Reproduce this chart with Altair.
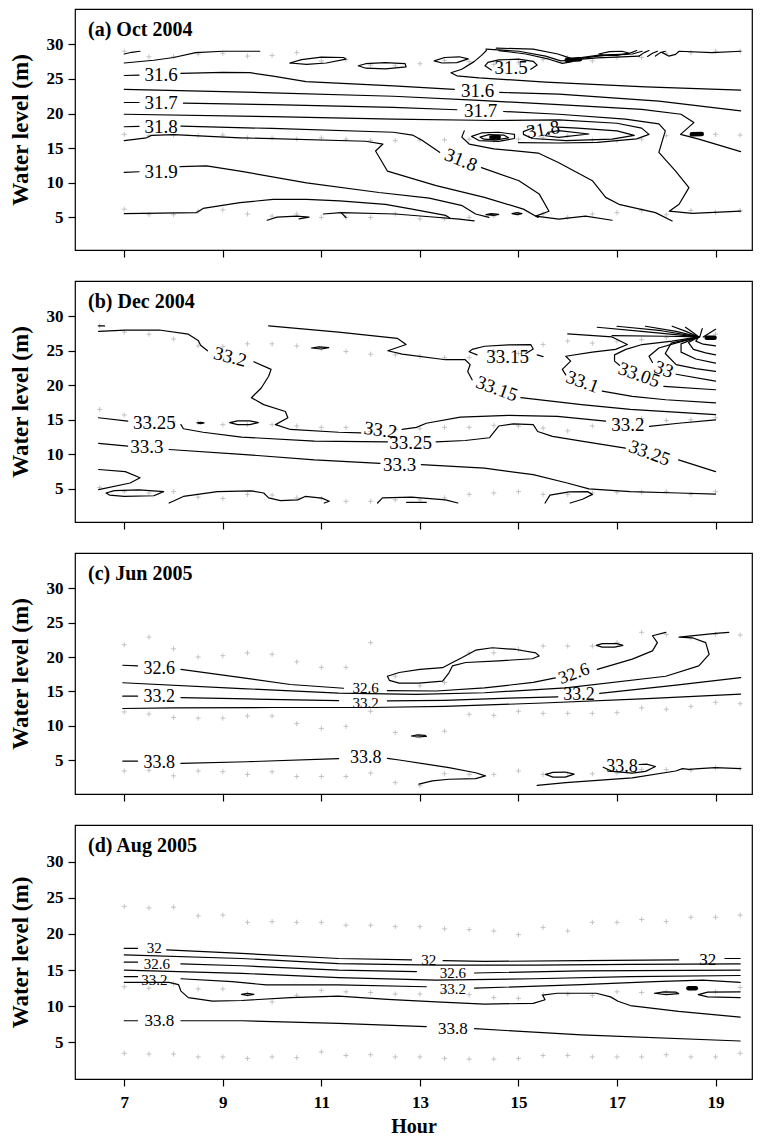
import altair as alt
import pandas as pd

FONT = "Liberation Serif"

# ---------------- shared tick values ----------------
X_TICKS = [7, 9, 11, 13, 15, 17, 19]
Y_TICKS = [5, 10, 15, 20, 25, 30]

# ---------------- sample positions (grey crosses) ----------------
HOURS_ACD = [7, 7.5, 8, 8.5, 9, 9.5, 10, 10.5, 11, 11.5, 12, 12.5, 13, 13.5,
             14, 14.5, 15, 15.5, 16, 16.5, 17, 17.5, 18, 18.5, 19, 19.5]
HOURS_B = [6.5, 7, 7.5, 8, 8.5, 9, 9.5, 10, 10.5, 11, 11.5, 12, 12.5, 13,
           13.5, 14, 14.5, 15, 15.5, 16, 16.5, 17, 17.5, 18, 18.5, 19]

A_TOP = [29.0, 28.2, 28.2, 28.6, 28.7, 28.3, 28.4, 28.8, 27.6, 27.8, 27.0, 26.9, 27.2,
         27.7, 27.5, 27.1, 27.4, 27.8, 28.1, 27.6, 28.1, 28.1, 28.7, 28.8, 29.0, 29.0]
A_MID = [17.0, 16.8, 16.9, 16.8, 16.9, 16.5, 16.5, 16.3, 16.5, 16.3, 16.1, 16.1, 16.2,
         16.2, 16.3, 16.1, 16.3, 16.5, 16.8, 16.2, 16.1, 16.3, 16.8, 16.8, 17.0, 16.9]
A_BOT = [6.2, 5.4, 5.4, 5.9, 6.1, 5.5, 5.2, 5.5, 5.0, 5.0, 5.0, 5.5, 4.8,
         4.8, 5.0, 5.2, 5.5, 5.5, 5.0, 5.5, 5.7, 6.0, 5.4, 6.0, 5.7, 6.0]

B_TOP = [28.6, 27.7, 27.4, 26.7, 25.7, 25.6, 26.0, 26.0, 25.7, 25.3, 24.9, 24.5, 24.4,
         24.2, 24.0, 24.0, 24.9, 24.6, 25.9, 26.4, 26.1, 26.4, 26.6, 26.9, 27.2, 27.4]
B_MID = [16.5, 15.7, 15.3, 14.8, 14.6, 14.3, 14.3, 14.3, 14.1, 13.9, 13.9, 13.3, 13.6,
         13.7, 13.9, 13.9, 14.2, 14.1, 13.8, 13.4, 14.1, 14.8, 15.2, 14.9, 15.0, 15.3]
B_BOT = [5.2, 4.6, 4.4, 4.6, 3.8, 3.6, 4.2, 4.1, 3.7, 3.6, 3.2, 3.2, 3.4,
         3.4, 3.7, 4.2, 4.4, 4.6, 4.2, 4.2, 4.4, 4.5, 4.5, 4.6, 4.2, 4.6]

C_TOP = [21.8, 22.9, 21.2, 20.0, 20.2, 20.6, 20.4, 19.3, 18.5, 18.5, 22.1, 17.2, 15.8,
         16.3, 20.6, 20.6, 21.1, 21.6, 21.6, 21.6, 22.1, 23.6, 23.3, 22.8, 23.3, 23.2]
C_MID = [12.0, 11.7, 11.2, 11.1, 11.1, 11.4, 11.4, 10.3, 9.6, 9.9, 12.1, 9.0, 8.5,
         9.2, 11.65, 11.5, 12.1, 11.8, 11.8, 11.8, 11.9, 12.6, 12.4, 12.8, 13.4, 13.2]
C_BOT = [3.4, 3.5, 2.7, 3.4, 3.3, 2.9, 3.3, 2.6, 2.6, 2.6, 3.1, 1.7, 1.3,
         3.0, 2.9, 2.9, 3.4, 2.9, 3.1, 3.0, 3.1, 3.6, 3.6, 3.5, 3.9, 3.75]

D_TOP = [23.8, 23.6, 23.7, 22.5, 22.6, 21.6, 21.7, 21.6, 21.6, 21.2, 21.2, 21.0, 21.0,
         20.7, 20.6, 20.4, 19.9, 20.9, 20.4, 21.6, 21.6, 22.0, 21.7, 22.3, 22.3, 22.6]
D_MID = [12.7, 12.5, 13.1, 12.4, 12.4, 11.7, 10.6, 11.5, 12.2, 12.0, 11.9, 11.7, 11.7,
         12.0, 11.6, 11.2, 11.1, 11.6, 11.7, 11.5, 12.0, 11.9, 12.0, 12.4, 12.0, 12.6]
D_BOT = [3.5, 3.4, 3.4, 3.0, 3.0, 2.8, 3.0, 2.9, 3.7, 3.2, 3.3, 3.0, 3.0,
         2.8, 2.7, 2.7, 2.8, 3.2, 3.2, 3.0, 3.0, 3.0, 3.3, 3.0, 3.0, 3.5]

# ---------------- panel (a) Oct 2004: contour traces (hour, depth) ----------------
A_LINES = {
    "top_arc": [(7.0, 28.6), (7.15, 28.85), (7.32, 29.0)],
    "top_line": [(7.0, 27.3), (7.6, 27.7), (8.0, 28.1), (8.45, 28.8), (9.0, 29.0), (9.75, 29.0)],
    "ell1": [(10.36, 27.3), (10.6, 27.8), (11.0, 28.15), (11.45, 28.1), (11.5, 27.85), (11.1, 27.3), (10.7, 27.1), (10.36, 27.3)],
    "ell2": [(11.75, 26.9), (11.9, 27.2), (12.3, 27.35), (12.7, 27.2), (12.72, 26.75), (12.3, 26.45), (11.9, 26.55), (11.75, 26.9)],
    "ell3": [(13.29, 27.6), (13.5, 28.1), (13.8, 28.2), (13.98, 27.9), (13.75, 27.35), (13.45, 27.3), (13.29, 27.6)],
    "curve": [(14.35, 29.1), (14.25, 28.4), (14.1, 27.5), (13.85, 26.4), (13.63, 25.9), (13.75, 25.45), (14.2, 25.15), (15.55, 24.55), (17.58, 23.85), (19.51, 23.4)],
    "loop315": [(14.45, 26.3), (14.32, 26.9), (14.38, 27.4), (14.6, 27.75), (15.0, 27.85), (15.3, 27.55), (15.38, 27.0), (15.25, 26.4)],
    "k0": [(14.55, 29.45), (15.3, 29.3), (15.8, 28.6), (16.05, 28.0)],
    "k1": [(14.34, 29.3), (15.01, 29.0), (15.55, 28.3), (15.86, 27.6), (16.09, 27.7)],
    "k2": [(14.6, 29.1), (15.15, 28.6), (15.62, 27.85), (15.89, 27.25), (16.09, 27.5)],
    "k4": [(16.09, 27.8), (16.5, 28.2), (16.9, 28.5), (17.31, 28.6), (17.51, 29.0)],
    "k5": [(16.09, 27.9), (16.6, 28.4), (17.2, 28.55), (17.4, 29.1)],
    "k6": [(16.1, 27.75), (16.6, 28.05), (17.1, 28.2), (17.45, 28.3)],
    "ell_top": [(16.63, 28.6), (16.85, 28.95), (17.1, 29.0), (17.24, 28.75), (17.0, 28.4), (16.75, 28.4), (16.63, 28.6)],
    "curl1": [(17.45, 28.3), (17.55, 28.8), (17.65, 29.1)],
    "curl2": [(17.62, 28.25), (17.72, 28.7), (17.82, 29.0)],
    "curl3": [(17.78, 28.3), (17.88, 28.8), (17.98, 29.0)],
    "top_right": [(17.92, 28.8), (18.05, 28.3), (18.19, 28.55), (18.26, 29.0), (18.93, 28.8), (19.51, 29.0)],
    "c316a": [(7.0, 25.5), (7.3, 25.55)],
    "c316b": [(8.15, 25.8), (9.0, 25.95), (9.55, 25.9), (10.02, 25.4), (10.69, 24.6), (12.46, 24.0), (13.7, 23.5)],
    "c316c": [(14.62, 23.05), (15.82, 22.8), (17.85, 21.8), (19.51, 20.4)],
    "c3165": [(7.0, 23.5), (10.0, 23.0), (12.46, 22.5), (14.2, 21.9), (15.82, 21.3), (17.5, 20.6), (18.3, 19.9), (18.56, 18.7), (18.29, 17.0), (18.66, 16.3), (19.51, 14.5)],
    "c317a": [(7.0, 21.6), (7.3, 21.6)],
    "c317b": [(8.2, 21.5), (10.0, 21.3), (12.46, 20.9), (13.75, 20.55)],
    "c317c": [(14.7, 20.3), (15.82, 19.9), (17.17, 19.2), (17.85, 18.5), (17.98, 17.5), (17.85, 14.4), (18.19, 11.7), (18.46, 9.3), (18.26, 6.9), (18.06, 5.9), (18.53, 5.6), (19.51, 5.9)],
    "c3175": [(7.0, 19.9), (10.0, 19.55), (12.46, 19.2), (14.5, 19.0), (15.82, 19.1), (17.0, 18.6), (17.5, 17.9), (17.65, 17.0), (17.4, 16.35), (16.6, 15.85), (15.82, 15.75), (15.0, 15.8)],
    "loop6": [(15.3, 17.95), (15.1, 17.4), (15.1, 17.0), (15.28, 16.4), (15.97, 16.1), (16.9, 16.3), (17.35, 16.85), (17.0, 17.5), (16.2, 17.9), (15.8, 18.05)],
    "loop7": [(15.82, 17.55), (16.43, 17.05), (15.82, 16.55), (15.55, 16.8), (15.6, 17.3), (15.82, 17.55)],
    "spot1": [(14.05, 16.7), (14.25, 17.2), (14.6, 17.3), (14.92, 17.0), (14.92, 16.4), (14.6, 15.98), (14.2, 16.1), (14.05, 16.7)],
    "spot2": [(14.22, 16.6), (14.4, 16.95), (14.7, 16.9), (14.8, 16.5), (14.55, 16.2), (14.3, 16.3), (14.22, 16.6)],
    "l8": [(13.9, 17.5), (13.85, 16.6), (14.0, 15.6), (14.5, 14.9), (15.4, 14.3), (15.82, 12.9), (16.5, 10.3), (16.77, 7.9), (17.04, 6.9), (17.78, 5.7), (18.12, 4.5)],
    "c318a": [(7.0, 18.1), (7.3, 18.15)],
    "c318b": [(8.15, 18.2), (10.0, 17.85), (12.46, 17.3), (12.85, 16.9), (13.05, 16.1), (13.4, 14.4)],
    "c318c": [(14.25, 12.2), (15.01, 10.3), (15.42, 8.4), (15.62, 5.9), (15.35, 5.2), (15.82, 4.75), (16.36, 5.2), (16.9, 4.6)],
    "c3185": [(7.0, 16.1), (7.45, 16.5), (7.55, 16.85), (8.0, 16.95), (9.35, 16.5), (11.9, 16.0), (12.25, 15.6), (12.1, 14.6), (12.34, 11.7), (13.33, 9.6), (14.31, 7.9), (15.1, 6.2), (15.4, 5.0)],
    "c319a": [(7.0, 11.5), (7.3, 11.6)],
    "c319b": [(8.13, 12.35), (8.67, 12.45), (9.35, 11.7), (10.7, 10.0), (12.17, 8.6), (13.19, 7.8), (13.86, 6.7), (14.13, 5.5), (14.4, 5.0)],
    "c3195": [(7.0, 5.55), (8.47, 5.7), (8.6, 6.3), (9.35, 7.15), (10.02, 7.6), (10.7, 7.6), (11.37, 7.4), (12.3, 6.9), (12.84, 6.2), (13.52, 5.3), (13.6, 4.95)],
    "hook1": [(9.9, 4.6), (10.1, 5.05), (10.5, 5.2), (10.75, 5.05), (10.55, 4.8)],
    "bot2": [(11.04, 5.5), (11.4, 5.7), (12.5, 5.5), (13.2, 5.1), (13.8, 4.75), (14.1, 4.5)],
    "hook2": [(11.4, 5.7), (11.5, 5.0)],
    "small1": [(14.34, 5.4), (14.45, 5.55), (14.6, 5.45), (14.5, 5.3), (14.34, 5.4)],
    "small2": [(14.87, 5.55), (14.97, 5.7), (15.07, 5.55), (14.97, 5.42), (14.87, 5.55)],
}
A_BLOBS = {
    "knot": [(15.98, 27.75), (16.25, 27.85)],
    "spot": [(14.45, 16.55), (14.6, 16.6)],
    "dash": [(18.52, 17.0), (18.72, 17.05)],
}
# (hour, depth, text, angle, font size)
A_LABELS = [
    (7.75, 25.5, "31.6", 0, 19), (14.17, 23.2, "31.6", 0, 19),
    (7.75, 21.55, "31.7", 0, 19), (14.23, 20.4, "31.7", 0, 19),
    (7.75, 18.1, "31.8", 0, 19), (15.5, 17.7, "31.8", 350, 19), (13.83, 13.3, "31.8", 22, 19),
    (7.75, 11.6, "31.9", 0, 19), (14.85, 26.6, "31.5", 0, 19),
]

# ---------------- panel (b) Dec 2004 ----------------
B_LINES = {
    "dash": [(6.48, 28.6), (6.6, 28.6)],
    "c332a": [(6.48, 27.8), (7.02, 28.0), (7.71, 28.0), (8.3, 27.4), (8.5, 26.5), (8.55, 25.8), (8.69, 25.0)],
    "c332b": [(9.63, 23.4), (9.98, 22.3), (9.93, 21.3), (9.78, 19.6), (9.58, 18.2), (9.83, 17.2), (10.27, 16.2), (10.32, 15.3), (10.07, 14.3), (10.37, 13.6), (11.35, 13.2), (11.8, 13.1)],
    "c332c": [(12.64, 13.6), (12.93, 13.9), (13.13, 14.5), (13.82, 15.4), (14.8, 15.65), (15.79, 15.5), (16.77, 14.8)],
    "c332d": [(17.66, 14.05), (18.25, 14.5), (19.0, 15.0)],
    "c3315a": [(9.93, 28.6), (11.35, 27.7), (12.54, 26.8), (12.72, 25.9), (12.35, 25.0), (12.64, 24.5), (13.52, 23.7), (13.92, 23.7), (14.02, 23.0), (13.97, 22.0), (14.06, 20.8)],
    "c3315b": [(15.05, 18.2), (16.28, 17.2), (17.27, 16.5), (19.0, 15.75)],
    "loop3315": [(15.15, 24.6), (15.3, 25.25), (15.25, 25.9), (14.8, 25.85), (14.31, 25.65), (14.06, 25.2), (14.0, 24.85), (14.16, 24.4)],
    "tail3315": [(15.38, 24.4), (15.5, 24.15)],
    "c3325a": [(6.48, 15.3), (7.07, 14.8)],
    "c3325b": [(8.15, 14.3), (8.2, 13.7), (8.6, 13.2), (9.38, 12.5), (10.86, 11.9), (12.34, 11.8)],
    "c3325c": [(13.33, 11.8), (13.92, 12.0), (14.41, 12.4), (14.51, 13.3), (14.6, 14.1), (14.9, 14.4), (15.3, 14.3), (15.39, 13.3), (15.69, 12.6), (16.28, 11.9), (17.17, 10.9)],
    "c3325d": [(18.25, 9.2), (19.0, 7.5)],
    "c333a": [(6.48, 11.6), (7.07, 11.2)],
    "c333b": [(7.91, 10.7), (9.38, 10.0), (10.86, 9.2), (12.19, 8.7)],
    "c333c": [(13.03, 8.5), (14.31, 8.0), (15.3, 7.05), (15.99, 5.85), (16.43, 5.0), (17.27, 4.6), (18.25, 4.4), (19.0, 4.25)],
    "hook": [(6.48, 7.8), (7.02, 7.5), (7.32, 6.6), (7.12, 5.85), (6.48, 4.9)],
    "ell_bl": [(6.63, 4.4), (6.8, 4.75), (7.3, 4.85), (7.8, 4.6), (7.6, 4.0), (7.0, 3.9), (6.7, 4.1), (6.63, 4.4)],
    "bot1": [(7.91, 2.95), (8.2, 3.9), (8.89, 4.6), (9.58, 4.7), (9.83, 4.4), (9.93, 3.7), (10.17, 3.3), (10.52, 3.4), (10.67, 3.9), (11.01, 3.65), (11.16, 3.2), (11.06, 2.95)],
    "bot2": [(12.14, 2.95), (12.24, 3.7), (12.83, 3.8), (13.52, 3.4), (13.77, 2.95)],
    "bot3": [(12.73, 3.05), (13.13, 3.05)],
    "bot4": [(15.54, 2.95), (15.64, 4.1), (16.03, 4.55), (16.4, 4.6), (16.5, 4.2), (16.3, 3.5), (16.05, 2.95)],
    "ell_mid": [(9.14, 14.6), (9.3, 14.85), (9.55, 14.85), (9.72, 14.6), (9.55, 14.3), (9.3, 14.3), (9.14, 14.6)],
    "ell_tiny": [(8.48, 14.55), (8.55, 14.65), (8.62, 14.55), (8.55, 14.45), (8.48, 14.55)],
    "ell_top": [(10.8, 25.4), (10.95, 25.55), (11.15, 25.45), (11.0, 25.25), (10.8, 25.4)],
    "f1a": [(16.0, 27.45), (16.9, 27.0), (17.21, 25.9), (16.97, 25.2), (16.5, 24.8), (15.96, 24.2), (16.06, 23.5), (15.89, 22.3), (15.96, 21.5)],
    "f1b": [(16.7, 19.15), (17.31, 18.4), (17.99, 17.9), (19.0, 17.45)],
    "f2a": [(18.66, 27.0), (18.12, 26.4), (17.51, 25.9), (17.18, 25.2), (16.95, 24.4), (16.95, 23.5), (17.05, 22.9)],
    "f2b": [(17.95, 19.85), (19.0, 19.35)],
    "f3a": [(18.66, 27.0), (18.19, 26.1), (17.85, 25.4), (17.65, 24.2), (17.72, 23.3)],
    "f3b": [(18.2, 21.6), (19.0, 20.6)],
    "u0": [(16.9, 27.2), (18.0, 27.1), (18.66, 27.0)],
    "u1": [(16.6, 28.4), (17.5, 27.8), (18.66, 27.0)],
    "u2": [(17.0, 28.55), (17.9, 27.9), (18.66, 27.0)],
    "u3": [(17.58, 28.55), (18.2, 27.8), (18.66, 27.0)],
    "u4": [(18.12, 28.55), (18.4, 27.8), (18.66, 27.0)],
    "u5": [(18.39, 28.4), (18.55, 27.6), (18.66, 27.0)],
    "u6": [(18.73, 28.2), (18.68, 27.0)],
    "u7": [(19.0, 28.1), (18.75, 27.0)],
    "r1": [(18.66, 27.0), (18.6, 26.4), (18.75, 25.95), (19.0, 25.7)],
    "r2": [(18.66, 27.0), (18.45, 26.2), (18.55, 25.2), (18.8, 24.7), (19.0, 24.4)],
    "r3": [(18.66, 27.0), (18.3, 26.0), (18.3, 24.8), (18.6, 23.8), (19.0, 23.2)],
    "r4": [(18.66, 27.0), (18.1, 26.1), (17.98, 24.6), (18.2, 23.0), (18.6, 22.4), (19.0, 22.0)],
}
B_BLOBS = {
    "blob1": [(18.82, 26.9), (18.98, 26.9)],
}
B_LABELS = [
    (9.15, 24.1, "33.2", 15, 19), (12.2, 13.5, "33.2", 8, 19), (17.22, 14.3, "33.2", 0, 19),
    (14.56, 19.5, "33.15", 20, 19), (14.78, 24.1, "33.15", 0, 19),
    (7.61, 14.55, "33.25", 0, 19), (12.81, 11.6, "33.25", 0, 19), (17.66, 10.2, "33.25", 20, 19),
    (7.46, 11.0, "33.3", 0, 19), (12.59, 8.5, "33.3", 0, 19),
    (16.3, 20.5, "33.1", 20, 19), (17.45, 21.5, "33.05", 20, 19), (17.95, 22.3, "33", 20, 19),
]

# ---------------- panel (c) Jun 2005 ----------------
C_LINES = {
    "c326a": [(6.97, 18.8), (7.27, 18.7)],
    "c326b": [(8.15, 18.2), (9.38, 17.0), (10.37, 16.0), (11.45, 15.45)],
    "c326c": [(12.34, 15.1), (13.33, 15.05), (14.31, 15.5), (15.3, 16.3), (15.75, 16.95)],
    "c326d": [(16.6, 18.2), (17.31, 19.7), (17.72, 20.9), (17.82, 22.1), (17.72, 23.1), (17.99, 23.6)],
    "c329": [(6.97, 16.25), (9.38, 15.4), (11.35, 14.75), (12.93, 14.55), (14.31, 14.8), (15.96, 15.5), (17.99, 17.2), (18.66, 18.7), (18.87, 20.4), (18.8, 22.1), (18.53, 22.8), (18.26, 22.9), (18.46, 23.05), (19.0, 23.45), (19.27, 23.6)],
    "c332a": [(6.97, 14.3), (7.27, 14.3)],
    "c332b": [(8.15, 14.1), (9.5, 13.9), (11.35, 13.65)],
    "c332c": [(12.34, 13.6), (13.5, 13.7), (14.8, 14.0), (15.8, 14.2)],
    "c332d": [(16.65, 14.7), (18.2, 15.9), (19.51, 17.0)],
    "c335": [(6.97, 12.5), (8.0, 12.6), (10.0, 12.65), (12.0, 12.65), (13.5, 12.8), (15.5, 13.3), (17.5, 13.9), (19.51, 14.6)],
    "bulge": [(12.34, 17.2), (12.58, 17.75), (13.0, 18.2), (13.46, 18.45), (13.66, 19.2), (13.85, 19.9), (14.13, 21.0), (14.47, 21.35), (14.95, 21.1), (15.35, 20.6), (15.42, 20.15), (15.28, 19.75), (14.6, 19.45), (13.93, 19.2), (13.66, 18.7), (13.59, 17.7), (13.46, 16.5), (12.98, 16.2), (12.58, 16.2), (12.38, 16.6), (12.34, 17.2)],
    "ell_top": [(16.58, 21.7), (16.7, 21.95), (17.0, 21.95), (17.12, 21.7), (16.95, 21.45), (16.7, 21.45), (16.58, 21.7)],
    "ell_mid": [(12.83, 8.5), (12.95, 8.65), (13.1, 8.6), (13.13, 8.45), (12.95, 8.35), (12.83, 8.5)],
    "c338a": [(6.97, 4.85), (7.27, 4.85)],
    "c338b": [(8.15, 4.5), (9.5, 4.75), (11.35, 5.2)],
    "c338c": [(12.34, 5.25), (12.58, 5.0), (13.59, 3.9), (14.13, 3.15), (14.33, 2.7), (14.13, 2.3), (13.59, 2.2), (13.25, 1.95), (12.98, 1.5)],
    "bot_r": [(15.38, 1.3), (15.96, 1.7), (17.31, 2.4), (18.19, 3.4), (18.33, 3.75), (18.46, 3.65), (18.66, 3.75), (19.0, 3.9), (19.51, 3.75)],
    "ell_bot": [(15.55, 2.9), (15.7, 3.2), (15.95, 3.25), (16.13, 2.95), (15.95, 2.5), (15.7, 2.5), (15.55, 2.9)],
    "loop338": [(16.72, 3.95), (16.9, 3.35), (17.31, 3.1), (17.58, 3.35), (17.78, 4.05), (17.6, 4.4), (17.45, 4.35)],
}
C_BLOBS = {}
C_LABELS = [
    (7.71, 18.3, "32.6", 0, 18), (11.9, 15.45, "32.6", 0, 15), (16.13, 17.5, "32.6", 340, 18),
    (7.71, 14.15, "33.2", 0, 18), (11.9, 13.3, "33.2", 0, 15), (16.23, 14.4, "33.2", 0, 18),
    (7.71, 4.55, "33.8", 0, 18), (11.9, 5.3, "33.8", 0, 18), (17.1, 3.95, "33.8", 0, 18),
]

# ---------------- panel (d) Aug 2005 ----------------
D_LINES = {
    "c32a": [(7.0, 18.0), (7.27, 18.0)],
    "c32b": [(7.86, 17.8), (9.38, 17.3), (11.35, 16.6), (12.83, 16.4)],
    "c32c": [(13.47, 16.3), (14.31, 16.2), (16.28, 16.3), (18.25, 16.4)],
    "c32d": [(19.19, 16.6), (19.5, 16.6)],
    "c323": [(7.0, 17.1), (9.38, 16.6), (11.35, 15.9), (13.33, 15.7), (15.3, 15.7), (17.27, 15.8), (19.5, 15.85)],
    "c326a": [(7.0, 16.1), (7.27, 16.1)],
    "c326b": [(8.15, 15.85), (9.38, 15.6), (11.35, 15.0), (12.93, 14.8)],
    "c326c": [(14.11, 14.6), (16.28, 14.9), (19.5, 15.0)],
    "c329": [(7.0, 15.0), (9.38, 14.55), (11.35, 13.95), (13.33, 13.6), (15.3, 13.8), (17.27, 14.1), (19.5, 14.25)],
    "c332a": [(7.0, 14.1), (7.27, 14.1)],
    "c332b": [(8.15, 13.8), (9.19, 13.4), (9.88, 12.95), (11.35, 12.95), (13.13, 12.7)],
    "c332c": [(14.11, 12.5), (16.28, 13.0), (17.76, 13.4), (18.74, 13.6), (19.5, 13.3)],
    "c335": [(7.0, 13.3), (7.91, 13.3), (8.1, 13.0), (8.15, 12.1), (8.3, 11.2), (8.79, 10.7), (9.38, 10.8), (10.37, 11.2), (11.35, 11.4), (12.34, 10.95), (13.33, 10.6), (14.31, 10.3), (15.3, 10.4), (15.54, 10.9), (15.49, 11.55), (15.79, 11.8), (16.58, 11.8), (16.87, 11.3), (17.02, 10.7), (17.27, 10.1), (18.25, 9.3), (19.5, 8.5)],
    "ell1": [(9.38, 11.65), (9.5, 11.8), (9.63, 11.65), (9.5, 11.5), (9.38, 11.65)],
    "ell2": [(17.76, 11.8), (17.95, 12.0), (18.2, 11.95), (18.25, 11.75), (18.0, 11.6), (17.76, 11.8)],
    "open_r": [(19.5, 12.0), (18.84, 11.95), (18.65, 11.6), (18.84, 11.3), (19.5, 11.2)],
    "c338a": [(7.0, 8.0), (7.27, 8.0)],
    "c338b": [(8.15, 8.0), (9.38, 8.0), (11.35, 7.65), (13.13, 7.2)],
    "c338c": [(14.11, 6.9), (16.28, 6.05), (19.5, 5.2)],
}
D_BLOBS = {"blob": [(18.45, 12.5), (18.6, 12.5)]}
D_LABELS = [
    (7.61, 18.1, "32", 0, 15), (13.18, 16.35, "32", 0, 15), (18.84, 16.4, "32", 0, 17),
    (7.66, 15.85, "32.6", 0, 15), (13.67, 14.65, "32.6", 0, 15),
    (7.61, 13.6, "33.2", 0, 15), (13.67, 12.35, "33.2", 0, 15),
    (7.71, 7.9, "33.8", 0, 17), (13.67, 6.9, "33.8", 0, 17),
]


def line_frame(lines, blobs):
    rows = []
    for name, pts in lines.items():
        for i, (h, d) in enumerate(pts):
            rows.append({"seg": name, "i": i, "hour": h, "depth": d, "w": 1.2})
    for name, pts in blobs.items():
        for i, (h, d) in enumerate(pts):
            rows.append({"seg": "blob_" + name, "i": i, "hour": h, "depth": d, "w": 4.5})
    return pd.DataFrame(rows)


def cross_frame(hours, *rows):
    out = []
    for depths in rows:
        for h, d in zip(hours, depths):
            out.append({"hour": h, "depth": d})
    return pd.DataFrame(out)


def panel(title, lines, blobs, labels, hours, rows, ydom, height, bottom):
    if bottom:
        xaxis = alt.Axis(values=X_TICKS, title="Hour", titleFont=FONT, titleFontSize=20,
                         titleFontWeight="bold", titleColor="black", titlePadding=6,
                         labelFont=FONT, labelFontSize=17, labelFontWeight="bold",
                         labelColor="black", labelPadding=8, tickSize=7, tickColor="black",
                         tickWidth=1.2, domain=False, grid=False)
    else:
        xaxis = alt.Axis(values=X_TICKS, title=None, labels=False, tickSize=7,
                         tickColor="black", tickWidth=1.2, domain=False, grid=False)
    yaxis = alt.Axis(values=Y_TICKS, title="Water level (m)", titleFont=FONT,
                     titleFontSize=23, titleFontWeight="bold", titleColor="black",
                     titlePadding=14, labelFont=FONT, labelFontSize=17,
                     labelFontWeight="bold", labelColor="black", labelPadding=5,
                     tickSize=7, tickColor="black", tickWidth=1.2, domain=False, grid=False)
    x = alt.X("hour:Q", scale=alt.Scale(domain=[6.0, 19.74], nice=False, zero=False), axis=xaxis)
    y = alt.Y("depth:Q", scale=alt.Scale(domain=ydom, nice=False, zero=False), axis=yaxis)

    crosses = alt.Chart(cross_frame(hours, *rows)).mark_point(
        shape="M-1,0L1,0M0,-1L0,1", size=26, filled=False, color="#9a9a9a", strokeWidth=0.8
    ).encode(x=x, y=y)

    lns = alt.Chart(line_frame(lines, blobs)).mark_line(
        color="black", clip=True, strokeCap="round", strokeJoin="round"
    ).encode(x=x, y=y, detail="seg:N", order="i:Q",
             strokeWidth=alt.StrokeWidth("w:Q", scale=None))

    lab_df = pd.DataFrame(labels, columns=["hour", "depth", "txt", "ang", "fs"])
    labs = alt.Chart(lab_df).mark_text(font=FONT, color="black",
                                       align="center", baseline="middle").encode(
        x=x, y=y, text="txt:N", angle=alt.Angle("ang:Q", scale=None),
        size=alt.Size("fs:Q", scale=None))

    ttl = alt.Chart(pd.DataFrame({"t": [title]})).mark_text(
        font=FONT, fontSize=20, fontWeight="bold", color="black", align="left",
        baseline="middle").encode(x=alt.value(13), y=alt.value(21), text="t:N")

    return alt.layer(crosses, lns, labs, ttl).properties(width=677, height=height)


pa = panel("(a) Oct 2004", A_LINES, A_BLOBS, A_LABELS, HOURS_ACD, (A_TOP, A_MID, A_BOT), [0.3, 35.1], 241, False)
pb = panel("(b) Dec 2004", B_LINES, B_BLOBS, B_LABELS, HOURS_B, (B_TOP, B_MID, B_BOT), [0.2, 35.1], 241, False)
pc = panel("(c) Jun 2005", C_LINES, C_BLOBS, C_LABELS, HOURS_ACD, (C_TOP, C_MID, C_BOT), [0.05, 35.15], 241, False)
pd_ = panel("(d) Aug 2005", D_LINES, D_BLOBS, D_LABELS, HOURS_ACD, (D_TOP, D_MID, D_BOT), [-0.05, 35.05], 254, True)

chart = alt.vconcat(pa, pb, pc, pd_, spacing=21, padding=0, background="white").configure_view(
    stroke="black", strokeWidth=1.2
)

chart.save("out.html", embed_options={"renderer": "svg", "actions": False})
